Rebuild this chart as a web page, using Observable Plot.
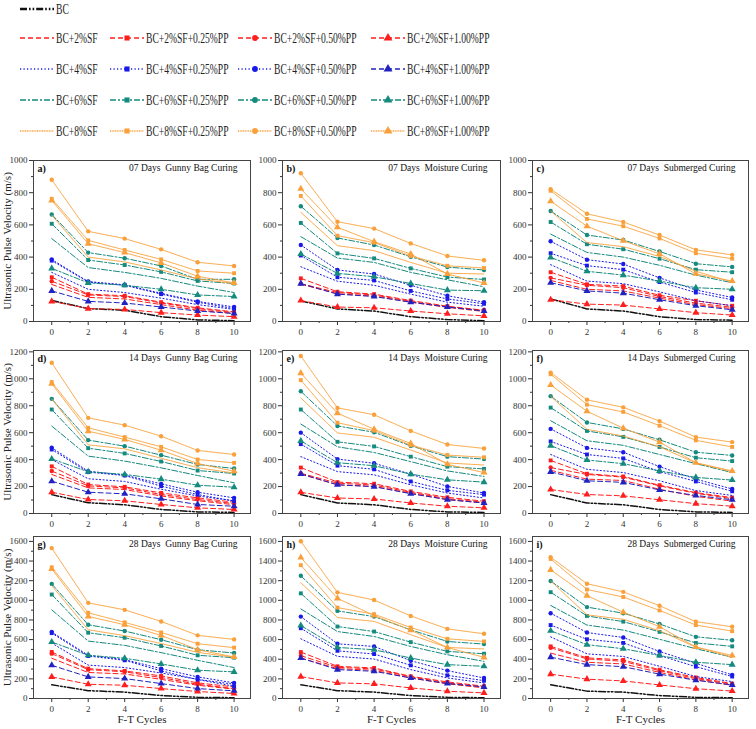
<!DOCTYPE html>
<html><head><meta charset="utf-8">
<script src="https://cdn.jsdelivr.net/npm/d3@7"></script>
<script src="https://cdn.jsdelivr.net/npm/@observablehq/plot@0.6"></script>
<style>
body{margin:0;background:#fff;}
#root{position:relative;width:756px;height:729px;overflow:hidden;font-family:"Liberation Serif",serif;}
#legend{position:absolute;left:0;top:0;}
</style></head><body><div id="root"><svg id="legend" width="756" height="150"></svg></div>
<script>
const cycles = [0, 2, 4, 6, 8, 10];
const seriesNames = ["BC",
  "BC+2%SF", "BC+2%SF+0.25%PP", "BC+2%SF+0.50%PP", "BC+2%SF+1.00%PP",
  "BC+4%SF", "BC+4%SF+0.25%PP", "BC+4%SF+0.50%PP", "BC+4%SF+1.00%PP",
  "BC+6%SF", "BC+6%SF+0.25%PP", "BC+6%SF+0.50%PP", "BC+6%SF+1.00%PP",
  "BC+8%SF", "BC+8%SF+0.25%PP", "BC+8%SF+0.50%PP", "BC+8%SF+1.00%PP"];
const panelLabels = ["a)", "b)", "c)", "d)", "e)", "f)", "g)", "h)", "i)"];
const panelTitles = ["07 Days  Gunny Bag Curing", "07 Days  Moisture Curing", "07 Days  Submerged Curing",
  "14 Days  Gunny Bag Curing", "14 Days  Moisture Curing", "14 Days  Submerged Curing",
  "28 Days  Gunny Bag Curing", "28 Days  Moisture Curing", "28 Days  Submerged Curing"];
const yTickMax = [1000, 1200, 1600];
const yAxisLabel = "Ultrasonic Pulse Velocity (m/s)";
const xAxisLabel = "F-T Cycles";

// values per panel, in seriesNames order, at cycles 0..10
const pA = [
  [130, 80, 70, 30, 10, 5],
  [230, 150, 140, 105, 70, 50], [275, 170, 160, 120, 85, 60], [250, 165, 155, 115, 80, 55], [125, 80, 75, 55, 40, 30],
  [305, 200, 180, 145, 105, 75], [378, 245, 225, 170, 120, 80], [385, 248, 228, 175, 125, 90], [190, 125, 115, 90, 65, 50],
  [515, 335, 305, 268, 220, 180], [607, 382, 351, 308, 252, 236], [665, 428, 393, 345, 262, 262], [330, 240, 225, 200, 165, 155],
  [660, 400, 370, 320, 265, 235], [762, 504, 444, 386, 314, 300], [880, 560, 515, 448, 368, 345], [752, 483, 428, 364, 281, 240]];
const pB = [
  [128, 78, 65, 30, 12, 5],
  [232, 172, 158, 120, 88, 62], [268, 185, 170, 130, 95, 70], [235, 180, 165, 125, 90, 68], [130, 90, 85, 65, 48, 35],
  [340, 250, 225, 170, 120, 95], [410, 275, 255, 190, 140, 110], [475, 320, 295, 225, 160, 120], [235, 170, 155, 120, 90, 65],
  [527, 394, 367, 305, 259, 216], [612, 423, 392, 330, 276, 261], [716, 519, 475, 402, 338, 320], [419, 299, 278, 236, 195, 191],
  [678, 471, 440, 367, 300, 295], [780, 533, 490, 407, 346, 332], [921, 620, 577, 485, 407, 380], [824, 585, 496, 419, 295, 239]];
const pC = [
  [140, 78, 65, 30, 12, 8],
  [255, 200, 190, 145, 105, 80], [306, 231, 220, 163, 129, 98], [271, 225, 210, 155, 114, 88], [135, 108, 102, 78, 55, 40],
  [353, 251, 235, 184, 129, 98], [424, 347, 322, 245, 180, 135], [498, 384, 357, 271, 196, 149], [241, 190, 176, 135, 98, 73],
  [543, 429, 400, 349, 288, 241], [618, 480, 449, 390, 322, 306], [686, 537, 506, 435, 359, 339], [398, 312, 288, 251, 210, 200],
  [686, 490, 465, 404, 312, 245], [812, 637, 592, 516, 424, 390], [822, 669, 618, 537, 445, 414], [747, 592, 502, 420, 296, 251]];
const pD = [
  [140, 80, 65, 30, 12, 8],
  [290, 190, 178, 130, 95, 65], [350, 215, 198, 153, 116, 84], [315, 205, 190, 141, 104, 74], [158, 104, 94, 67, 42, 30],
  [400, 258, 238, 180, 130, 95], [475, 307, 282, 203, 141, 92], [488, 314, 285, 220, 158, 116], [240, 158, 146, 109, 67, 54],
  [649, 426, 389, 339, 282, 228], [772, 485, 446, 386, 319, 297], [851, 545, 500, 433, 364, 334], [405, 310, 290, 255, 210, 195],
  [850, 510, 480, 410, 340, 300], [975, 636, 567, 495, 401, 376], [1119, 710, 656, 574, 468, 438], [963, 611, 550, 470, 371, 314]];
const pE = [
  [140, 78, 65, 30, 12, 8],
  [292, 213, 201, 150, 103, 78], [341, 233, 221, 164, 120, 91], [299, 225, 211, 157, 110, 83], [157, 115, 108, 78, 54, 42],
  [422, 311, 287, 213, 152, 115], [515, 355, 328, 238, 172, 140], [600, 404, 373, 292, 201, 152], [294, 213, 199, 147, 103, 78],
  [664, 495, 453, 385, 316, 275], [772, 532, 498, 422, 348, 331], [907, 650, 603, 502, 422, 404], [539, 377, 355, 292, 250, 233],
  [858, 598, 566, 471, 375, 360], [990, 674, 615, 507, 434, 417], [1169, 784, 733, 613, 512, 483], [1042, 745, 625, 520, 365, 304]];
const pF = [
  [140, 78, 65, 30, 12, 8],
  [321, 255, 245, 180, 127, 92], [394, 295, 275, 210, 155, 118], [341, 290, 270, 205, 150, 110], [178, 141, 131, 102, 73, 54],
  [438, 328, 304, 243, 170, 134], [535, 438, 409, 311, 238, 165], [628, 487, 455, 348, 255, 182], [309, 243, 231, 175, 134, 102],
  [689, 540, 506, 438, 370, 304], [786, 613, 569, 494, 414, 389], [871, 676, 628, 547, 455, 431], [504, 397, 370, 316, 268, 248],
  [870, 625, 575, 495, 375, 310], [1034, 808, 754, 652, 543, 494], [1046, 844, 788, 686, 567, 530], [954, 759, 633, 530, 377, 316]];
const pG = [
  [140, 80, 65, 30, 12, 8],
  [410, 265, 250, 195, 135, 95], [474, 304, 281, 230, 159, 118], [457, 294, 272, 213, 145, 101], [220, 145, 135, 101, 71, 51],
  [565, 340, 315, 260, 195, 145], [666, 433, 389, 281, 193, 125], [677, 440, 396, 304, 220, 159], [338, 220, 203, 152, 101, 78],
  [903, 585, 541, 467, 389, 315], [1059, 670, 619, 535, 440, 416], [1167, 751, 687, 599, 497, 463], [575, 440, 410, 352, 288, 271],
  [1150, 700, 640, 560, 470, 420], [1336, 873, 775, 673, 558, 518], [1532, 974, 903, 785, 643, 602], [1319, 836, 751, 643, 497, 423]];
const pH = [
  [140, 80, 65, 30, 12, 8],
  [412, 304, 287, 209, 149, 108], [473, 328, 311, 226, 169, 125], [436, 318, 301, 220, 159, 118], [223, 159, 149, 108, 74, 57],
  [608, 429, 402, 294, 209, 159], [716, 486, 453, 338, 236, 182], [834, 557, 530, 385, 284, 209], [412, 294, 277, 209, 152, 118],
  [912, 682, 632, 530, 446, 378], [1071, 733, 682, 574, 480, 456], [1250, 892, 834, 699, 581, 554], [743, 520, 497, 412, 345, 328],
  [1180, 825, 785, 650, 520, 505], [1358, 926, 858, 723, 608, 581], [1601, 1081, 1003, 841, 709, 659], [1436, 1020, 845, 696, 520, 419]];
const pI = [
  [140, 75, 65, 30, 12, 8],
  [462, 369, 352, 266, 190, 134], [531, 414, 393, 293, 214, 152], [517, 403, 379, 283, 203, 145], [248, 197, 179, 138, 100, 76],
  [628, 455, 428, 328, 224, 172], [748, 603, 566, 438, 324, 224], [869, 672, 621, 479, 359, 241], [421, 345, 324, 248, 186, 138],
  [948, 748, 697, 603, 507, 421], [1083, 841, 783, 679, 566, 531], [1197, 931, 869, 759, 628, 593], [690, 548, 507, 438, 369, 345],
  [1197, 852, 807, 690, 524, 421], [1421, 1110, 1034, 897, 748, 686], [1438, 1169, 1086, 945, 783, 731], [1310, 1048, 879, 731, 524, 438]];
const panels = [pA, pB, pC, pD, pE, pF, pG, pH, pI];

// ---- styling / layout ----
const groupColors = ["#ff1e1e", "#1a1ae8", "#158a7e", "#f9a03a"];
const groupDash = ["5,3", "1.2,2.3", "6,2,2,2", "1,0.7"];
const symbols = [null, "square", "circle", "triangle"];
function styleOf(s) {
  if (s === 0) return {color: "#111", dash: "7,2,1.6,2,1.6,2", width: 1.5, symbol: null};
  const g = Math.floor((s - 1) / 4), p = (s - 1) % 4;
  let color = groupColors[g], dash = groupDash[g];
  if (g === 1 && p === 3) { color = "#2222c0"; dash = "5,3"; }
  return {color, dash, width: g === 3 ? 0.9 : 1, symbol: symbols[p]};
}
const colLeft = [33, 282, 532], colRight = [250, 500, 748];
const rowTop = [160, 350, 536], rowBottom = [321, 513, 698];
const yDomainMax = [1000, 1210, 1650];

const root = document.getElementById("root");

// legend
const leg = d3.select("#legend");
const legRowY = [9, 38, 69, 100, 131];
const legColX = [20, 110, 238, 371];
seriesNames.forEach((name, s) => {
  const st = styleOf(s);
  let r, c;
  if (s === 0) { r = 0; c = 0; } else { r = Math.floor((s - 1) / 4) + 1; c = (s - 1) % 4; }
  const y = legRowY[r], x0 = legColX[c], x1 = x0 + 34;
  leg.append("line").attr("x1", x0).attr("x2", x1).attr("y1", y).attr("y2", y)
    .attr("stroke", st.color).attr("stroke-width", s === 0 ? 2.4 : st.width + 0.5)
    .attr("stroke-dasharray", st.dash);
  if (st.symbol) {
    const t = st.symbol === "square" ? d3.symbolSquare : st.symbol === "circle" ? d3.symbolCircle : d3.symbolTriangle;
    leg.append("path").attr("d", d3.symbol(t, st.symbol === "triangle" ? 34 : 26)())
      .attr("transform", `translate(${(x0 + x1) / 2},${y})`).attr("fill", st.color);
  }
  leg.append("text").attr("transform", `translate(${x1 + 2},${y + 5}) scale(0.64,1)`)
    .attr("font-size", 15).attr("fill", "#222").attr("font-family", "Liberation Serif").text(name);
});

// panels
const fmt = d3.format("d");
panels.forEach((data, k) => {
  const row = Math.floor(k / 3), col = k % 3;
  const left = colLeft[col], right = colRight[col], top = rowTop[row], bottom = rowBottom[row];
  const mL = 33, mR = 6, mT = 8, mB = row === 2 ? 31 : 22;
  const rows = [];
  data.forEach((vals, s) => vals.forEach((v, i) => rows.push({s, x: cycles[i], y: v})));
  const marks = [];
  marks.push(Plot.axisY({ticks: d3.range(100, yTickMax[row], 200), tickSize: 2, tickFormat: () => "", label: null}));
  marks.push(Plot.axisY({ticks: d3.range(0, yTickMax[row] + 1, 200), tickSize: 4, tickPadding: 2, tickFormat: fmt, label: null, fontSize: 9}));
  marks.push(Plot.axisX({ticks: [1, 3, 5, 7, 9], tickSize: 2, tickFormat: () => "", label: null}));
  marks.push(Plot.axisX({ticks: cycles, tickSize: 4, tickPadding: 3, tickFormat: fmt, label: null, fontSize: 9}));
  for (let s = 0; s < seriesNames.length; s++) {
    const st = styleOf(s);
    const d = rows.filter(r => r.s === s);
    marks.push(Plot.line(d, {x: "x", y: "y", stroke: st.color, strokeWidth: st.width, strokeDasharray: st.dash}));
    if (st.symbol) marks.push(Plot.dot(d, {x: "x", y: "y", symbol: st.symbol, fill: st.color, stroke: "none", r: st.symbol === "triangle" ? 2.6 : 2.2}));
  }
  marks.push(Plot.frame({stroke: "#444", strokeWidth: 1}));
  marks.push(Plot.text([panelLabels[k]], {frameAnchor: "top-left", dx: 4, dy: 4, textAnchor: "start", lineAnchor: "top", fontWeight: "bold", fontSize: 10, fill: "#111"}));
  marks.push(Plot.text([panelTitles[k]], {frameAnchor: "top-right", dx: -13, dy: 4, textAnchor: "end", lineAnchor: "top", fontSize: 9.5, fill: "#111"}));
  if (col === 0) marks.push(Plot.text([yAxisLabel], {frameAnchor: "left", dx: -26, rotate: -90, textAnchor: "middle", fontSize: 11, fill: "#222"}));
  if (row === 2) marks.push(Plot.text([xAxisLabel], {frameAnchor: "bottom", dy: 24, textAnchor: "middle", fontSize: 11, fill: "#222"}));
  const svg = Plot.plot({
    width: mL + (right - left) + mR, height: mT + (bottom - top) + mB,
    marginLeft: mL, marginRight: mR, marginTop: mT, marginBottom: mB,
    x: {domain: [-1, 10.9]}, y: {domain: [0, yDomainMax[row]]},
    style: {fontFamily: "Liberation Serif", fontSize: "9px", background: "transparent", overflow: "visible", color: "#333"},
    marks
  });
  svg.style.position = "absolute";
  svg.style.left = (left - mL) + "px";
  svg.style.top = (top - mT) + "px";
  root.appendChild(svg);
});
</script></body></html>
